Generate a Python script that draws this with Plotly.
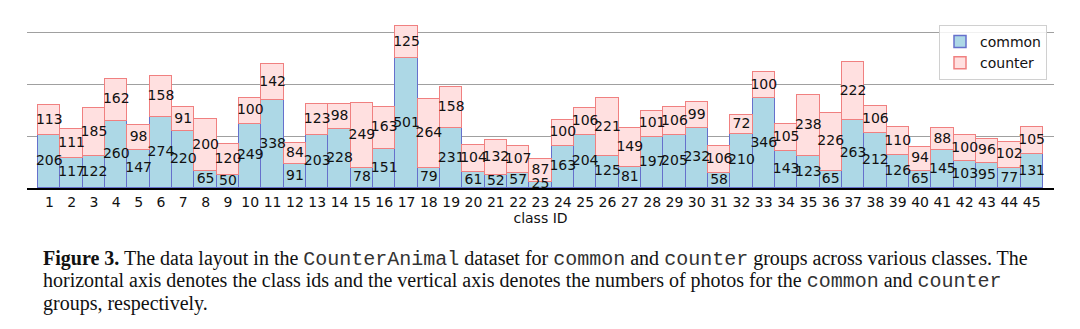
import plotly.graph_objects as go

classes = list(range(1, 46))
common = [206, 117, 122, 260, 147, 274, 220, 65, 50, 249, 338, 91, 203, 228, 78,
          151, 501, 79, 231, 61, 52, 57, 25, 163, 204, 125, 81, 197, 205, 232,
          58, 210, 346, 143, 123, 65, 263, 212, 126, 65, 145, 103, 95, 77, 131]
counter = [113, 111, 185, 162, 98, 158, 91, 200, 120, 100, 142, 84, 123, 98, 249,
           163, 125, 264, 158, 104, 132, 107, 87, 100, 106, 221, 149, 101, 106, 99,
           106, 72, 100, 105, 238, 226, 222, 106, 110, 94, 88, 100, 96, 102, 105]
grid_vals = [200, 400, 600]

W, H = 1080, 329
L, R, T, B = 27, 26, 10, 141
ph = H - T - B
pw = W - L - R

def py(p):
    return (H - B - p) / ph

def px(p):
    return (p - L) / pw

fig = go.Figure()
fig.add_trace(go.Bar(x=classes, y=common, name="common", width=1,
                     marker=dict(color="#add8e6", line=dict(color="#6670cc", width=1.5))))
fig.add_trace(go.Bar(x=classes, y=counter, name="counter", width=1,
                     marker=dict(color="#ffe0e0", line=dict(color="#f08080", width=1.5))))

lab_font = dict(family="DejaVu Sans", size=14, color="#111")
fig.add_trace(go.Scatter(x=classes, y=[c / 2 for c in common], mode="text",
                         text=[str(c) for c in common], textfont=lab_font,
                         showlegend=False, hoverinfo="skip"))
fig.add_trace(go.Scatter(x=classes, y=[c + k / 2 for c, k in zip(common, counter)], mode="text",
                         text=[str(k) for k in counter], textfont=lab_font,
                         showlegend=False, hoverinfo="skip"))

mono = "font-family:'Liberation Mono';fill:#333"
lines = [
    "<b>Figure 3.</b> The data layout in the <span style=\"%s\">CounterAnimal</span> dataset for "
    "<span style=\"%s\">common</span> and <span style=\"%s\">counter</span> groups across various classes. The" % (mono, mono, mono),
    "horizontal axis denotes the class ids and the vertical axis denotes the numbers of photos for the "
    "<span style=\"%s\">common</span> and <span style=\"%s\">counter</span>" % (mono, mono),
    "groups, respectively.",
]
ys = [259, 281, 303]
for t, yy in zip(lines, ys):
    fig.add_annotation(text=t, xref="paper", yref="paper", x=px(41), y=py(yy),
                       xanchor="left", yanchor="middle", showarrow=False,
                       font=dict(family="Liberation Serif", size=20, color="#111"))

fig.update_layout(
    width=W, height=H, margin=dict(l=L, r=R, t=T, b=B),
    barmode="stack", bargap=0,
    plot_bgcolor="white", paper_bgcolor="white",
    font=dict(family="DejaVu Sans", size=14, color="#111"),
    legend=dict(x=px(1047), y=py(25), xanchor="right", yanchor="top",
                traceorder="normal",
                bgcolor="rgba(255,255,255,0.85)", bordercolor="#d0d0d0", borderwidth=1,
                font=dict(size=14, family="DejaVu Sans"), tracegroupgap=2),
    xaxis=dict(range=[0, 46], tickvals=classes, ticktext=[str(c) for c in classes],
               showline=True, linecolor="black", linewidth=2, ticks="",
               showgrid=False, zeroline=False, tickfont=dict(size=14),
               title=dict(text="class ID", font=dict(size=14), standoff=2)),
    yaxis=dict(range=[0, ph / 0.259], tickvals=grid_vals, showticklabels=False,
               showgrid=True, gridcolor="#a0a0a0", gridwidth=1, zeroline=False,
               showline=False),
)

fig.write_html("out.html")
